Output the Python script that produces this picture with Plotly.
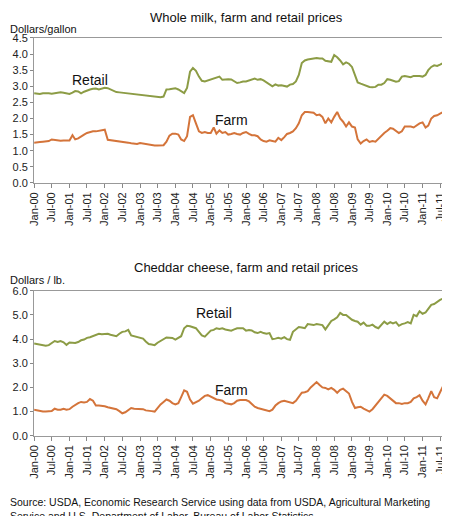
import pandas as pd
import plotly.graph_objects as go
from plotly.subplots import make_subplots

meses = pd.date_range('2000-01-01', '2011-12-01', freq='MS')
tick_vals = pd.date_range('2000-01-01', '2011-07-01', freq='6MS')
tick_text = [d.strftime('%b-%y') for d in tick_vals]

leite_varejo = [
    2.78, 2.77, 2.76, 2.78, 2.79, 2.78, 2.77, 2.79, 2.80, 2.81, 2.80, 2.79,
    2.76, 2.80, 2.85, 2.84, 2.78, 2.83, 2.87, 2.90, 2.92, 2.93, 2.90, 2.92,
    2.95, 2.94, 2.90, 2.88, 2.82, 2.81, 2.80, 2.80, 2.79, 2.78, 2.77, 2.76,
    2.74, 2.72, 2.71, 2.70, 2.69, 2.68, 2.67, 2.66, 2.68, 2.90, 2.91, 2.92,
    2.94, 2.90, 2.84, 2.79, 2.95, 3.45, 3.57, 3.48, 3.30, 3.17, 3.15, 3.18,
    3.20, 3.24, 3.27, 3.30, 3.20, 3.22, 3.22, 3.21, 3.15, 3.10, 3.12, 3.15,
    3.15, 3.18, 3.22, 3.24, 3.20, 3.22, 3.18, 3.12, 3.08, 3.00, 3.06, 3.02,
    3.03, 3.01, 2.99, 3.05, 3.07, 3.15, 3.35, 3.72, 3.80, 3.83, 3.85, 3.88,
    3.88, 3.86, 3.86, 3.79, 3.78, 3.76, 3.97, 3.90, 3.80, 3.68, 3.74, 3.70,
    3.60, 3.35, 3.12, 3.08, 3.05, 3.00, 2.98, 2.97, 2.98, 3.05, 3.05, 3.10,
    3.22, 3.20, 3.18, 3.14, 3.16, 3.30, 3.32, 3.30, 3.28, 3.32, 3.33, 3.32,
    3.30, 3.35, 3.50, 3.60, 3.65, 3.63, 3.67, 3.72, 3.70, 3.60, 3.55, 3.55,
]
leite_fazenda = [
    1.25, 1.25, 1.27, 1.28, 1.30, 1.30, 1.35, 1.33, 1.32, 1.31, 1.32, 1.31,
    1.32, 1.48, 1.35, 1.38, 1.45, 1.50, 1.55, 1.58, 1.60, 1.60, 1.62, 1.65,
    1.65, 1.34, 1.33, 1.32, 1.31, 1.30, 1.29, 1.27, 1.25, 1.23, 1.22, 1.21,
    1.24, 1.22, 1.22, 1.20, 1.17, 1.16, 1.16, 1.17, 1.17, 1.28, 1.47, 1.53,
    1.53, 1.50, 1.35, 1.30, 1.45, 2.05, 2.10, 1.85, 1.60, 1.55, 1.58, 1.55,
    1.55, 1.72, 1.53, 1.63, 1.55, 1.58, 1.50, 1.52, 1.55, 1.52, 1.50, 1.55,
    1.58, 1.52, 1.48, 1.48, 1.45, 1.35, 1.30, 1.28, 1.32, 1.30, 1.28, 1.40,
    1.33, 1.42, 1.52, 1.55, 1.60, 1.70, 1.85, 2.10, 2.20, 2.20, 2.20, 2.18,
    2.10, 2.12, 2.05, 1.85, 2.00, 1.88, 2.05, 2.20, 2.00, 1.90, 1.75, 1.88,
    1.75, 1.72, 1.35, 1.22, 1.30, 1.35, 1.27, 1.30, 1.28, 1.38, 1.48, 1.55,
    1.62, 1.70, 1.68, 1.62, 1.55, 1.60, 1.75, 1.75, 1.75, 1.72, 1.80, 1.85,
    1.88, 1.72, 1.78, 2.00, 2.08, 2.10, 2.15, 2.20, 2.25, 2.28, 2.05, 2.00,
]
queijo_varejo = [
    3.82, 3.80, 3.79, 3.76, 3.73, 3.75, 3.82, 3.92, 3.88, 3.92, 3.87, 3.76,
    3.86, 3.85, 3.84, 3.88, 3.95, 3.98, 4.05, 4.08, 4.12, 4.18, 4.22, 4.20,
    4.20, 4.22, 4.18, 4.15, 4.12, 4.22, 4.30, 4.32, 4.38, 4.15, 4.12, 4.10,
    4.05, 4.02, 3.90, 3.80, 3.78, 3.75, 3.85, 3.92, 4.00, 4.07, 4.06, 4.05,
    3.98, 4.05, 4.12, 4.45, 4.55, 4.53, 4.50, 4.45, 4.30, 4.15, 4.10, 4.22,
    4.35, 4.38, 4.45, 4.42, 4.45, 4.40, 4.38, 4.35, 4.40, 4.45, 4.45, 4.45,
    4.35, 4.38, 4.36, 4.28, 4.25, 4.30, 4.25, 4.22, 4.25, 4.00, 4.02, 4.05,
    4.02, 4.08, 4.00, 3.97, 4.30, 4.42, 4.50, 4.48, 4.45, 4.62, 4.60, 4.58,
    4.62, 4.60, 4.58, 4.40, 4.55, 4.75, 4.82, 4.90, 5.08, 5.00, 5.00, 4.90,
    4.80, 4.75, 4.72, 4.60, 4.68, 4.55, 4.55, 4.60, 4.50, 4.45, 4.58, 4.72,
    4.62, 4.70, 4.65, 4.70, 4.55, 4.62, 4.65, 4.70, 4.65, 5.00, 4.95, 5.15,
    5.05, 5.10, 5.25, 5.42, 5.45, 5.55, 5.62, 5.68, 5.70, 5.68, 5.60, 5.45,
]
queijo_fazenda = [
    1.08, 1.05, 1.02, 1.00, 1.00, 1.02, 1.02, 1.12, 1.08, 1.08, 1.12, 1.08,
    1.10, 1.20, 1.28, 1.35, 1.40, 1.38, 1.40, 1.52, 1.45, 1.25, 1.25, 1.25,
    1.22, 1.18, 1.15, 1.12, 1.10, 1.02, 0.93, 0.97, 1.05, 1.15, 1.12, 1.12,
    1.12, 1.10, 1.05, 1.02, 1.02, 1.00, 1.15, 1.30, 1.40, 1.50, 1.45, 1.35,
    1.30, 1.35, 1.60, 1.88, 1.82, 1.50, 1.33, 1.38, 1.45, 1.55, 1.65, 1.68,
    1.62, 1.55, 1.50, 1.48, 1.45, 1.35, 1.32, 1.30, 1.35, 1.45, 1.48, 1.48,
    1.48, 1.42, 1.30, 1.20, 1.15, 1.12, 1.10, 1.05, 1.02, 1.08, 1.25, 1.35,
    1.42, 1.45, 1.42, 1.40, 1.35, 1.45, 1.62, 1.78, 1.80, 1.85, 2.00, 2.10,
    2.22, 2.10, 2.00, 1.98, 1.92, 1.98, 1.90, 1.78, 1.90, 1.95, 1.85, 1.75,
    1.40, 1.15, 1.18, 1.20, 1.12, 1.05, 1.00, 1.10, 1.25, 1.40, 1.55, 1.70,
    1.65, 1.55, 1.42, 1.35, 1.35, 1.32, 1.35, 1.35, 1.40, 1.55, 1.60, 1.68,
    1.45, 1.30, 1.55, 1.85, 1.60, 1.55, 1.80, 2.05, 2.05, 1.80, 1.65, 1.72,
]

verde = '#8c9c45'
laranja = '#d4743a'
fonte = 'Liberation Sans, Arial, sans-serif'

fig = make_subplots(rows=2, cols=1)
fig.add_trace(go.Scatter(x=meses, y=leite_varejo, mode='lines', line=dict(color=verde, width=2)), row=1, col=1)
fig.add_trace(go.Scatter(x=meses, y=leite_fazenda, mode='lines', line=dict(color=laranja, width=2)), row=1, col=1)
fig.add_trace(go.Scatter(x=meses, y=queijo_varejo, mode='lines', line=dict(color=verde, width=2)), row=2, col=1)
fig.add_trace(go.Scatter(x=meses, y=queijo_fazenda, mode='lines', line=dict(color=laranja, width=2)), row=2, col=1)

fig.update_xaxes(
    range=['2000-01-01', '2011-12-15'], tickvals=tick_vals, ticktext=tick_text,
    tickangle=-90, ticks='outside', ticklen=4, tickcolor='#888', showgrid=False,
    showline=True, linecolor='#999', mirror=True, domain=[0.058, 0.996],
    tickfont=dict(size=11, color='#222'), automargin=False,
)
fig.update_yaxes(showgrid=False, showline=True, linecolor='#999', mirror=True,
                 ticks='outside', ticklen=3, tickcolor='#888', zeroline=False,
                 tickfont=dict(size=11, color='#222'), automargin=False)
fig.update_yaxes(range=[0, 4.5], dtick=0.5, tickformat='.1f', domain=[0.661, 0.942], row=1, col=1)
fig.update_yaxes(range=[0, 6], dtick=1, tickformat='.1f', domain=[0.171, 0.452], row=2, col=1)

notas = [
    (0.53, 1.0, 'Whole milk, farm and retail prices', 13, 'center'),
    (0.0, 0.975, 'Dollars/gallon', 11, 'left'),
    (0.53, 0.515, 'Cheddar cheese, farm and retail prices', 13, 'center'),
    (0.0, 0.488, 'Dollars / lb.', 11, 'left'),
]
for x, y, t, s, a in notas:
    fig.add_annotation(x=x, y=y, xref='paper', yref='paper', text=t, showarrow=False,
                       xanchor=a, yanchor='top', font=dict(size=s, color='#111'))

fig.add_annotation(x='2001-08-01', y=3.2, xref='x', yref='y', text='Retail', showarrow=False, font=dict(size=14, color='#111'))
fig.add_annotation(x='2005-08-01', y=1.95, xref='x', yref='y', text='Farm', showarrow=False, font=dict(size=14, color='#111'))
fig.add_annotation(x='2005-02-01', y=5.1, xref='x2', yref='y2', text='Retail', showarrow=False, font=dict(size=14, color='#111'))
fig.add_annotation(x='2005-08-01', y=1.9, xref='x2', yref='y2', text='Farm', showarrow=False, font=dict(size=14, color='#111'))

fig.add_annotation(x=0.0, y=0.0, xref='paper', yref='paper', xanchor='left', yanchor='bottom', align='left',
                   text='Source: USDA, Economic Research Service using data from USDA, Agricultural Marketing<br>'
                        'Service and U.S. Department of Labor, Bureau of Labor Statistics.',
                   showarrow=False, font=dict(size=10.5, color='#111'))

fig.update_layout(
    width=450, height=516, showlegend=False, template='plotly_white',
    margin=dict(l=0, r=0, t=0, b=0, autoexpand=False), font=dict(family=fonte),
    plot_bgcolor='white', paper_bgcolor='white',
)

fig.write_html('out.html')
